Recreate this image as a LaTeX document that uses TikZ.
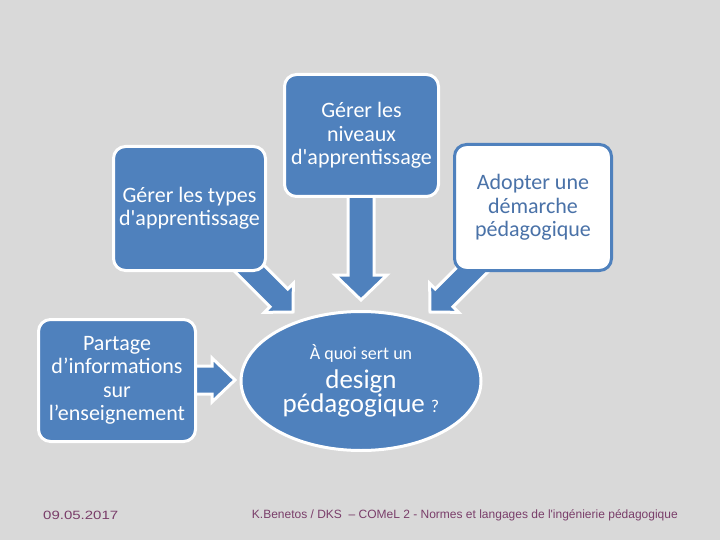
\documentclass[tikz,border=0pt]{standalone}
\usepackage{fontspec}
\setmainfont{Carlito}
\newfontfamily\footfont{Liberation Sans}
\newfontfamily\datefont[FakeStretch=1.25]{Liberation Sans}
\usetikzlibrary{calc,shapes,backgrounds,positioning}
\definecolor{slidegray}{HTML}{D9D9D9}
\definecolor{boxblue}{HTML}{4F81BD}
\definecolor{textblue}{HTML}{4A72A8}
\definecolor{footplum}{HTML}{7A3E6A}
\tikzset{
blue_box/.style={
	% The shape:
	rectangle,
	rounded corners=12pt,
	% The border:
	line width=3pt,
	draw=white,
	% The filling:
	fill=boxblue,
	% Font
	text=white,
	align=center,
	font=\fontsize{22}{23.5}\selectfont
},
white_box/.style={
	blue_box,
	% same box, white inside, blue border and text
	draw=boxblue,
	fill=white,
	text=textblue
},
design_oval/.style={
	ellipse,
	inner sep=0pt,
	line width=3pt,
	draw=white,
	fill=boxblue,
	text=white,
	align=center
},
arrow_body/.style={
	fill=boxblue,
	draw=white,
	line width=3pt,
	line join=miter
},
% block arrow: half shaft, head extend, head length
flow arrow/.style n args={3}{to path={
	let \p1=(\tikztostart), \p2=(\tikztotarget),
	\n1={atan2(\y2-\y1,\x2-\x1)}, \n2={veclen(\x2-\x1,\y2-\y1)} in
	-- ++(\n1+90:#1pt) -- ++(\n1:\n2-#3pt) -- ++(\n1+90:#2pt)
	-- (\tikztotarget)
	-- ++($(\n1+180:#3pt)+(\n1-90:#1pt+#2pt)$)
	-- ++(\n1+90:#2pt) -- ++(\n1+180:\n2-#3pt) -- cycle
}},
foot_text/.style={
	text=footplum,
	font=\footfont\fontsize{12}{13}\selectfont,
	inner sep=0pt
}
}

\begin{document}
\begin{tikzpicture}[x=1pt,y=-1pt]
\useasboundingbox (0,0) rectangle (720,540);

\node[blue_box, minimum width=154pt, minimum height=122pt] (levels) at (361.5,135.5)
	{Gérer les\\niveaux\\d\textquotesingle apprentissage};
\node[blue_box, minimum width=152pt, minimum height=124pt] (types) at (189.5,208.5)
	{Gérer les types\\d\textquotesingle apprentissage};
\node[white_box, minimum width=157pt, minimum height=126pt] (approach) at (533,207.5)
	{Adopter une\\démarche\\pédagogique};
\node[blue_box, minimum width=157pt, minimum height=122pt] (sharing) at (117,380.5)
	{Partage\\d’informations\\sur\\l’enseignement};
\node[design_oval, minimum width=240pt, minimum height=139pt] (design) at (361,381)
	{{\fontsize{18}{20}\selectfont À quoi sert un}\\[6pt]
	{\fontsize{27}{28}\selectfont design}\\[0pt]
	{\fontsize{27}{28}\selectfont pédagogique {\fontsize{18}{20}\selectfont ?}}};

% arrow ends
\coordinate (levels_tail) at (361,190);
\coordinate (levels_tip) at (361,300);
\coordinate (types_tail) at (241,260);
\coordinate (types_tip) at (293,312);
\coordinate (approach_tail) at (481,261);
\coordinate (approach_tip) at (430,312);
\coordinate (sharing_tail) at (190,380);
\coordinate (sharing_tip) at (235,380);

\begin{scope}[on background layer]
\fill[slidegray] (0,0) rectangle (720,540);
\filldraw[arrow_body] (levels_tail) to[flow arrow={13}{13}{25}] (levels_tip);
\filldraw[arrow_body] (types_tail) to[flow arrow={12.5}{8}{20}] (types_tip);
\filldraw[arrow_body] (approach_tail) to[flow arrow={12.5}{8}{20}] (approach_tip);
\filldraw[arrow_body] (sharing_tail) to[flow arrow={14}{8}{23}] (sharing_tip);
\end{scope}

\node[foot_text, font=\datefont\fontsize{12}{13}\selectfont, anchor=west] (date) at (43,515) {09.05.2017};
\node[foot_text, anchor=east] (credit) at (678,515)
	{K.Benetos / DKS \ – COMeL 2 - Normes et langages de l\textquotesingle ingénierie pédagogique};
\end{tikzpicture}
\end{document}
